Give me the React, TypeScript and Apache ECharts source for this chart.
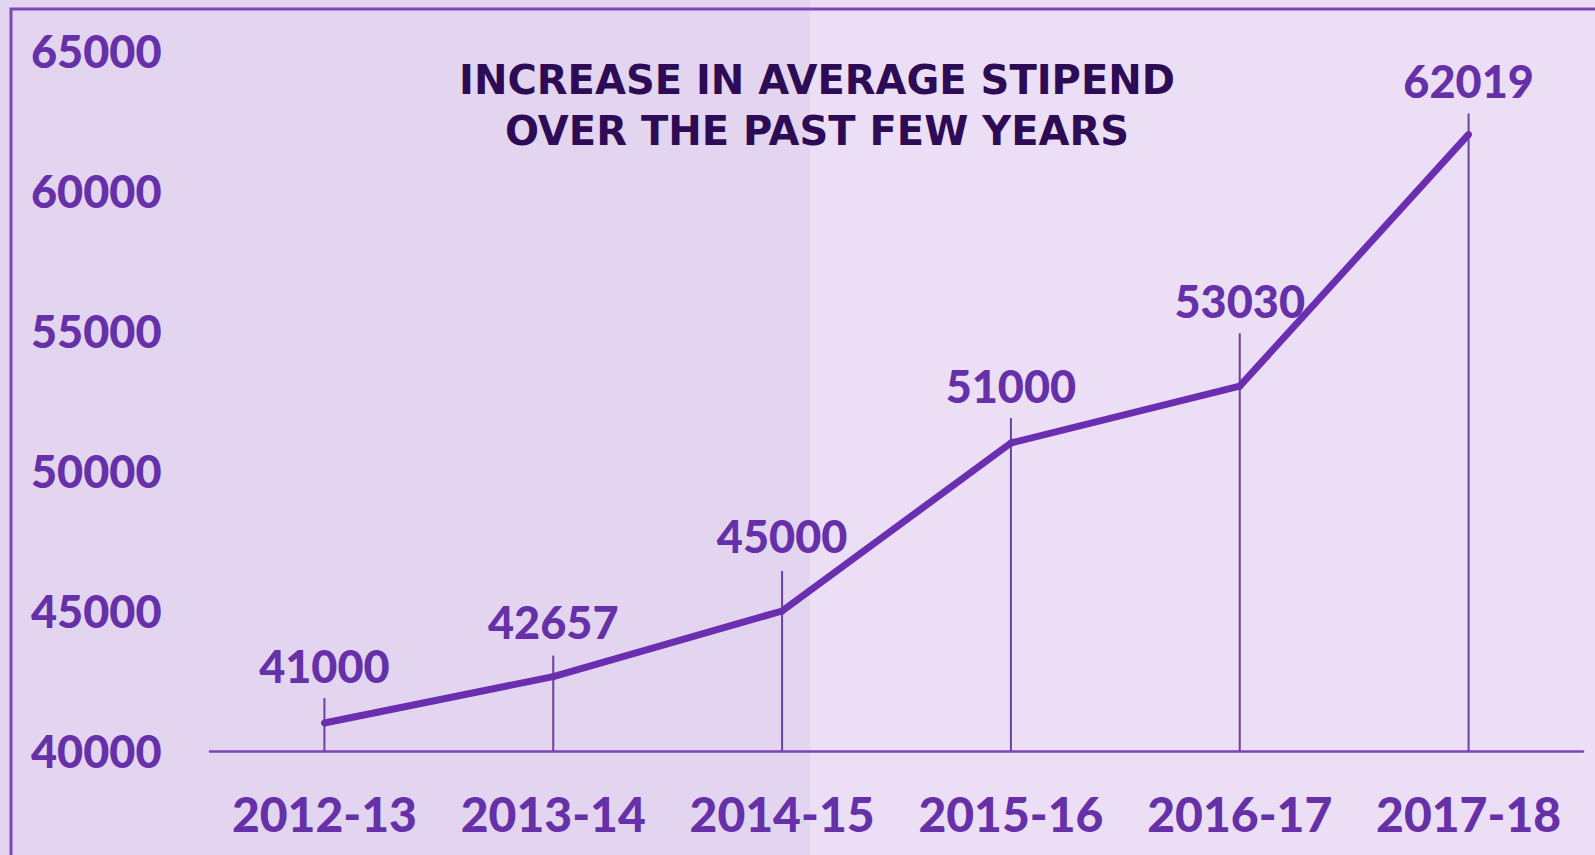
import React, { useEffect, useRef } from "react";
import * as echarts from "echarts";

const categories = ["2012-13", "2013-14", "2014-15", "2015-16", "2016-17", "2017-18"];
const stipends = [41000, 42657, 45000, 51000, 53030, 62019];
const yTicks = { min: 40000, max: 65000, interval: 5000 };
const titleText = "INCREASE IN AVERAGE STIPEND\nOVER THE PAST FEW YEARS";

// styling (pixel offsets for label placement and stem overhang)
const labelDistance = [31, 29, 49, 31, 59, 27];
const stemOverhang = [25, 21, 40, 25, 53, 21];

const PURPLE = "#6630a8";
const LINE = "#6a2fb0";
const STEM = "#6b3fa8";
const FONT = "Lato, 'Open Sans', sans-serif";
const WEIGHT = 900;

export default function App() {
  const ref = useRef<HTMLDivElement>(null);
  useEffect(() => {
    document.body.style.margin = "0";
    const chart = echarts.init(ref.current!, null, { renderer: "svg" });
    chart.setOption({
      animation: false,
      backgroundColor: "#ecdff5",
      textStyle: { fontFamily: FONT },
      graphic: [
        { type: "rect", z: -10, shape: { x: 0, y: 0, width: 810, height: 855 }, style: { fill: "#e3d5f0" }, silent: true },
        { type: "rect", z: 100, shape: { x: 11, y: 9, width: 1700, height: 1000 }, style: { fill: "none", stroke: "#7b48b5", lineWidth: 3 }, silent: true },
        {
          type: "text",
          x: 817,
          y: 54,
          z: 100,
          style: {
            text: titleText,
            fontFamily: "'DejaVu Sans', sans-serif",
            fontWeight: "bold",
            fontSize: 40,
            lineHeight: 51,
            fill: "#2e0b55",
            align: "center",
            verticalAlign: "top",
          },
        },
      ],
      grid: { left: 210, right: 12, top: 51, bottom: 104, containLabel: false },
      xAxis: {
        type: "category",
        data: categories,
        boundaryGap: true,
        axisLine: { lineStyle: { color: "#7a45b5", width: 2.5 } },
        axisTick: { show: false },
        axisLabel: {
          interval: 0,
          color: PURPLE,
          fontFamily: FONT,
          fontWeight: WEIGHT,
          fontSize: 48,
          margin: 38,
        },
      },
      yAxis: {
        type: "value",
        min: yTicks.min,
        max: yTicks.max,
        interval: yTicks.interval,
        axisLine: { show: false },
        axisTick: { show: false },
        splitLine: { show: false },
        axisLabel: {
          formatter: (v: number) => String(v),
          color: PURPLE,
          fontFamily: FONT,
          fontWeight: WEIGHT,
          fontSize: 45,
          align: "left",
          margin: 179,
        },
      },
      series: [
        {
          type: "custom",
          z: 1,
          silent: true,
          data: stipends.map((v, i) => [i, v]),
          renderItem: (params: any, api: any) => {
            const i = api.value(0);
            const v = api.value(1);
            const base = api.coord([i, yTicks.min]);
            const top = api.coord([i, v]);
            return {
              type: "line",
              shape: { x1: base[0], y1: base[1], x2: base[0], y2: top[1] - stemOverhang[params.dataIndex] },
              style: { stroke: STEM, lineWidth: 2 },
            };
          },
        },
        {
          type: "line",
          z: 3,
          symbol: "circle",
          symbolSize: 7,
          showSymbol: true,
          itemStyle: { color: LINE },
          lineStyle: { color: LINE, width: 7 },
          data: stipends.map((v, i) => ({
            value: v,
            label: { show: true, distance: labelDistance[i] },
          })),
          label: {
            show: true,
            position: "top",
            color: PURPLE,
            fontFamily: FONT,
            fontWeight: WEIGHT,
            fontSize: 45,
          },
        },
      ],
    });
    return () => chart.dispose();
  }, []);
  return <div ref={ref} style={{ width: 1595, height: 855 }} />;
}
